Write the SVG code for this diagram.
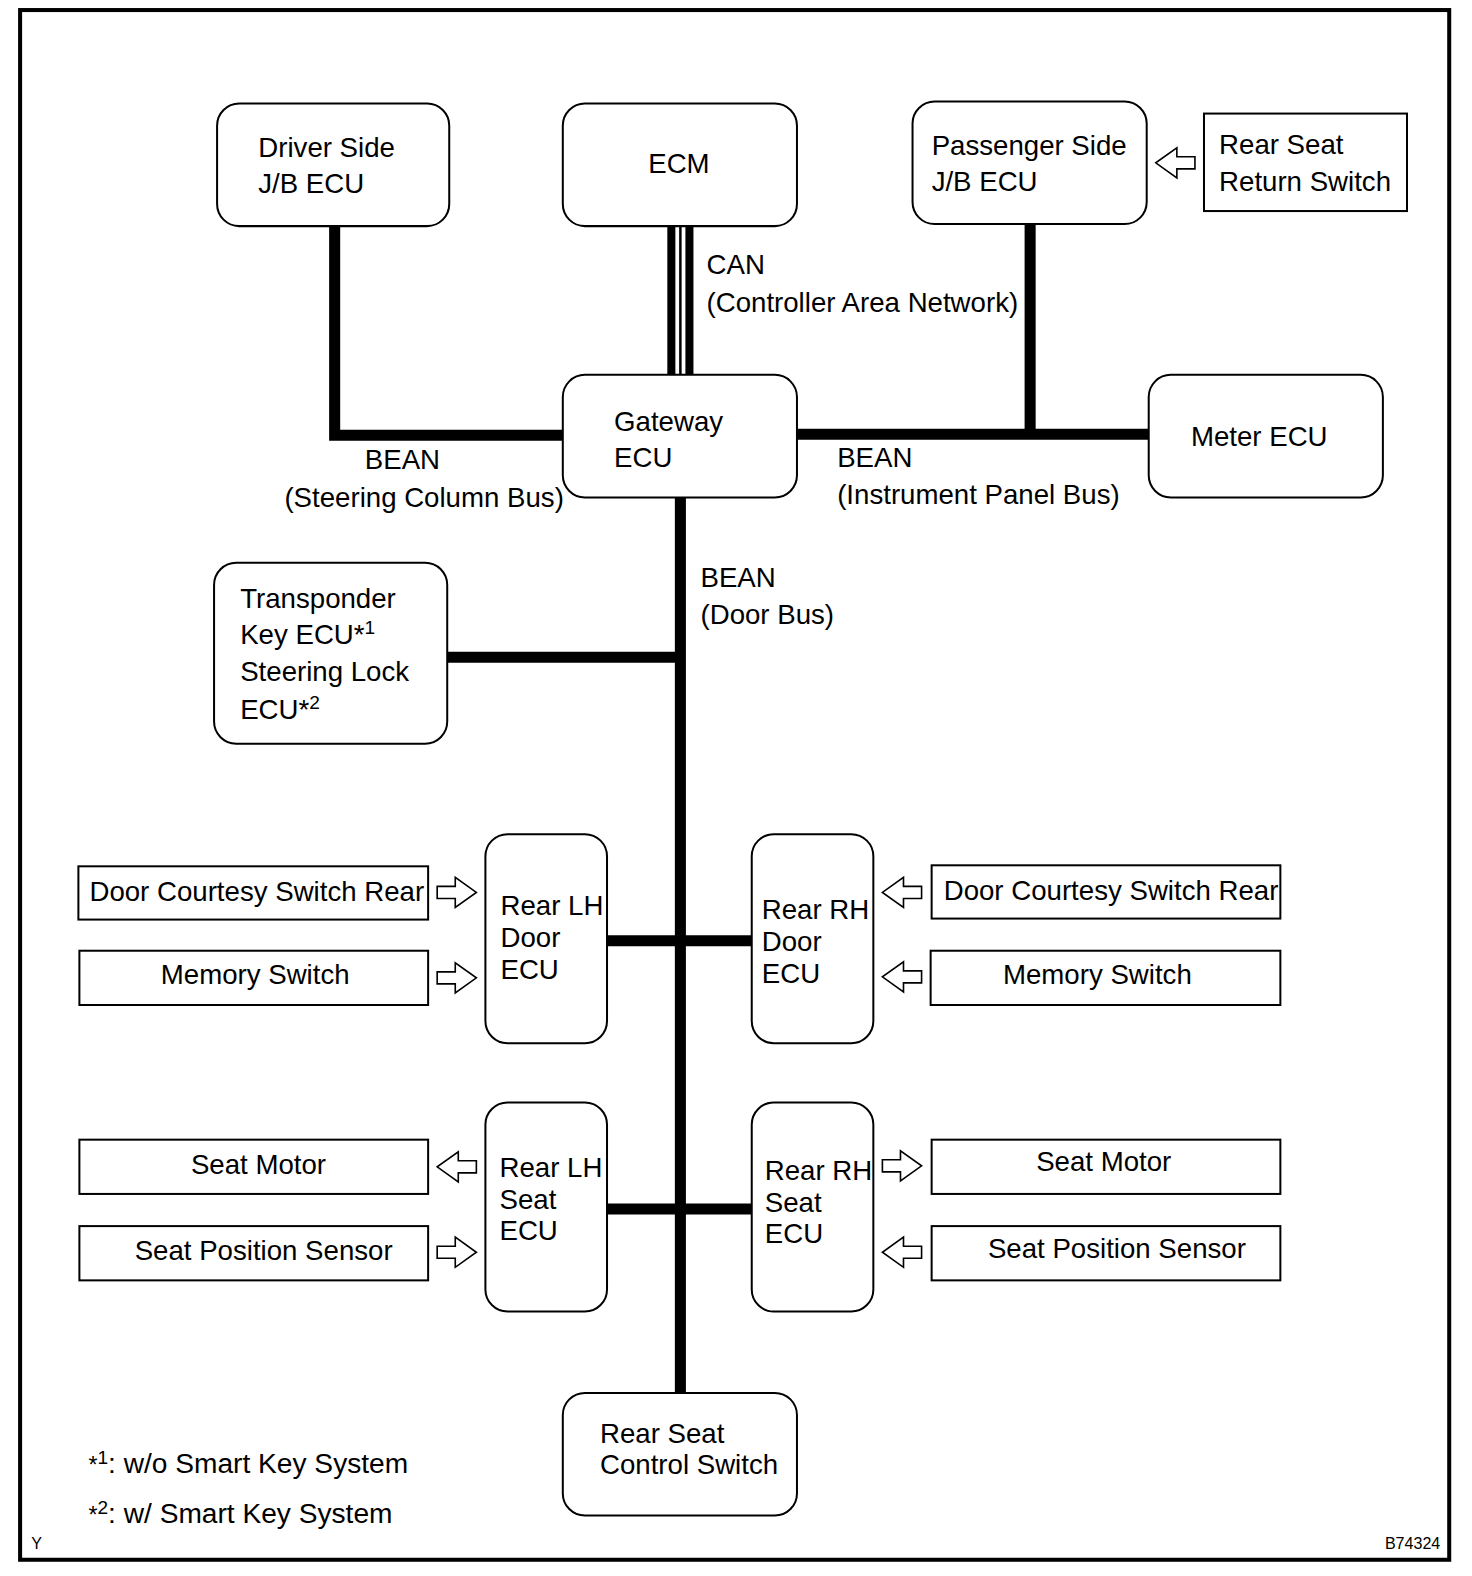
<svg xmlns="http://www.w3.org/2000/svg" xmlns:xlink="http://www.w3.org/1999/xlink" width="1472" height="1576" viewBox="0 0 1472 1576">
<style>
text{font-family:"Liberation Sans",Arial,sans-serif;font-size:27.5px;fill:#000}
.node{fill:#fff;stroke:#000;stroke-width:2}
.bus{stroke:#000;stroke-width:11;fill:none}
.arr{fill:#fff;stroke:#000;stroke-width:1.6;stroke-linejoin:miter}
.sup{font-size:19px}
.ast{font-size:23px}
.fn{font-size:28px}
.small{font-size:16px}
</style>
<defs>
<path id="arR" class="arr" d="M0,-6 H18 V-15 L39,0 L18,15 V6 H0 Z"/>
<path id="arL" class="arr" d="M39,-6 H21 V-15 L0,0 L21,15 V6 H39 Z"/>
</defs>
<rect width="1472" height="1576" fill="#fff"/>
<g transform="matrix(1.005 0 0 1.005 0 0)">
<rect x="20" y="10" width="1422" height="1542" fill="none" stroke="#000" stroke-width="4"/>

<g id="connectors">
<polyline class="bus" points="333,225 333,433 560,433"/>
<line x1="668" y1="225" x2="668" y2="373" stroke="#000" stroke-width="8"/>
<line x1="677" y1="225" x2="677" y2="373" stroke="#000" stroke-width="2.5"/>
<line x1="686" y1="225" x2="686" y2="373" stroke="#000" stroke-width="8"/>
<line class="bus" x1="793" y1="432" x2="1143" y2="432"/>
<line class="bus" x1="1025" y1="223" x2="1025" y2="432"/>
<line class="bus" x1="677" y1="495" x2="677" y2="1386"/>
<line class="bus" x1="445" y1="654" x2="677" y2="654"/>
<line class="bus" x1="604" y1="936" x2="748" y2="936"/>
<line class="bus" x1="604" y1="1203" x2="748" y2="1203"/>
<use href="#arL" x="1150" y="162"/>
<use href="#arR" x="435" y="888"/>
<use href="#arR" x="435" y="973"/>
<use href="#arL" x="435" y="1161"/>
<use href="#arR" x="435" y="1246"/>
<use href="#arL" x="878" y="888"/>
<use href="#arL" x="878" y="972"/>
<use href="#arR" x="878" y="1160"/>
<use href="#arL" x="878" y="1246"/>
</g>

<g id="labels">
<text x="703" y="273">CAN</text>
<text x="703" y="310">(Controller Area Network)</text>
<text x="363" y="467">BEAN</text>
<text x="283" y="504">(Steering Column Bus)</text>
<text x="833" y="465">BEAN</text>
<text x="833" y="501">(Instrument Panel Bus)</text>
<text x="697" y="584">BEAN</text>
<text x="697" y="621">(Door Bus)</text>
</g>

<g id="driver-jb">
<rect class="node" x="216" y="103" width="231" height="122" rx="22"/>
<text x="257" y="156">Driver Side</text>
<text x="257" y="192">J/B ECU</text>
</g>
<g id="ecm">
<rect class="node" x="560" y="103" width="233" height="122" rx="22"/>
<text x="645" y="172">ECM</text>
</g>
<g id="passenger-jb">
<rect class="node" x="908" y="101" width="233" height="122" rx="22"/>
<text x="927" y="154">Passenger Side</text>
<text x="927" y="190">J/B ECU</text>
</g>
<g id="rear-seat-return-switch">
<rect class="node" x="1198" y="113" width="202" height="97"/>
<text x="1213" y="153">Rear Seat</text>
<text x="1213" y="190">Return Switch</text>
</g>
<g id="gateway">
<rect class="node" x="560" y="373" width="233" height="122" rx="22"/>
<text x="611" y="429">Gateway</text>
<text x="611" y="465">ECU</text>
</g>
<g id="meter">
<rect class="node" x="1143" y="373" width="233" height="122" rx="22"/>
<text x="1185" y="444">Meter ECU</text>
</g>
<g id="transponder">
<rect class="node" x="213" y="560" width="232" height="180" rx="22"/>
<text x="239" y="605">Transponder</text>
<text x="239" y="641">Key ECU*<tspan class="sup" dy="-10">1</tspan></text>
<text x="239" y="678">Steering Lock</text>
<text x="239" y="715">ECU*<tspan class="sup" dy="-10">2</tspan></text>
</g>
<g id="rear-lh-door">
<rect class="node" x="483" y="830" width="121" height="208" rx="22"/>
<text x="498" y="910">Rear LH</text>
<text x="498" y="942">Door</text>
<text x="498" y="974">ECU</text>
</g>
<g id="rear-rh-door">
<rect class="node" x="748" y="830" width="121" height="208" rx="22"/>
<text x="758" y="914">Rear RH</text>
<text x="758" y="946">Door</text>
<text x="758" y="978">ECU</text>
</g>
<g id="door-courtesy-left">
<rect class="node" x="78" y="862" width="348" height="53"/>
<text x="89" y="897">Door Courtesy Switch Rear</text>
</g>
<g id="memory-left">
<rect class="node" x="79" y="946" width="347" height="54"/>
<text x="160" y="979">Memory Switch</text>
</g>
<g id="door-courtesy-right">
<rect class="node" x="927" y="861" width="347" height="53"/>
<text x="939" y="896">Door Courtesy Switch Rear</text>
</g>
<g id="memory-right">
<rect class="node" x="926" y="946" width="348" height="54"/>
<text x="998" y="979">Memory Switch</text>
</g>
<g id="rear-lh-seat">
<rect class="node" x="483" y="1097" width="121" height="208" rx="22"/>
<text x="497" y="1171">Rear LH</text>
<text x="497" y="1203">Seat</text>
<text x="497" y="1234">ECU</text>
</g>
<g id="rear-rh-seat">
<rect class="node" x="748" y="1097" width="121" height="208" rx="22"/>
<text x="761" y="1174">Rear RH</text>
<text x="761" y="1206">Seat</text>
<text x="761" y="1237">ECU</text>
</g>
<g id="seat-motor-left">
<rect class="node" x="79" y="1134" width="347" height="54"/>
<text x="190" y="1168">Seat Motor</text>
</g>
<g id="seat-pos-left">
<rect class="node" x="79" y="1220" width="347" height="54"/>
<text x="134" y="1254">Seat Position Sensor</text>
</g>
<g id="seat-motor-right">
<rect class="node" x="927" y="1134" width="347" height="54"/>
<text x="1031" y="1165">Seat Motor</text>
</g>
<g id="seat-pos-right">
<rect class="node" x="927" y="1220" width="347" height="54"/>
<text x="983" y="1252">Seat Position Sensor</text>
</g>
<g id="rear-seat-control-switch">
<rect class="node" x="560" y="1386" width="233" height="122" rx="22"/>
<text x="597" y="1436">Rear Seat</text>
<text x="597" y="1467">Control Switch</text>
</g>

<g id="footnotes">
<text class="fn" x="88" y="1466"><tspan class="ast">*</tspan><tspan class="sup" dy="-9">1</tspan><tspan dy="9">: w/o Smart Key System</tspan></text>
<text class="fn" x="88" y="1515"><tspan class="ast">*</tspan><tspan class="sup" dy="-9">2</tspan><tspan dy="9">: w/ Smart Key System</tspan></text>
<text class="small" x="31" y="1541">Y</text>
<text class="small" x="1378" y="1541">B74324</text>
</g>
</g>
</svg>
